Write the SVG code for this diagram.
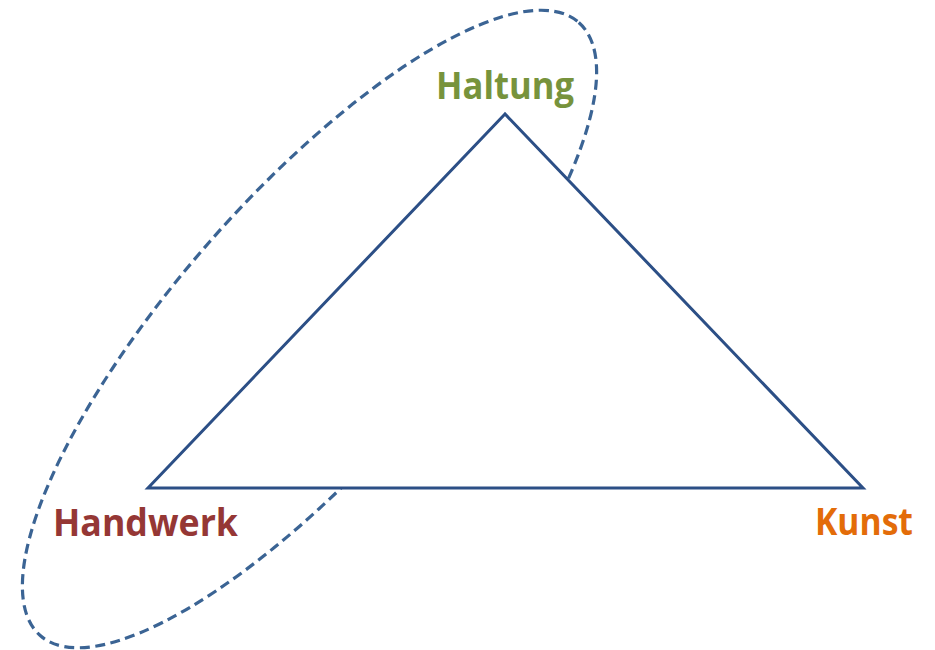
<svg xmlns="http://www.w3.org/2000/svg" width="935" height="650" viewBox="0 0 935 650">
<style>
.lbl{font-family:"Open Sans","Liberation Sans",sans-serif;font-weight:bold;font-size:37px}
</style>
<rect width="935" height="650" fill="#ffffff"/>
<g id="ellipse">
<ellipse cx="309.5" cy="329" rx="408" ry="132.6" transform="rotate(-48.7 309.5 329)" fill="none" stroke="#3B6494" stroke-width="3.2" stroke-dasharray="10 5.5"/>
</g>
<g id="connectors">
<polygon points="505,114 148,488 863,488" fill="#ffffff" stroke="#2C4F86" stroke-width="3" stroke-linejoin="miter"/>
</g>
<g id="haltung"><text class="lbl" x="436" y="99" fill="#77933C" textLength="138" lengthAdjust="spacingAndGlyphs">Haltung</text></g>
<g id="handwerk"><text class="lbl" x="53" y="536" fill="#953735" textLength="185" lengthAdjust="spacingAndGlyphs">Handwerk</text></g>
<g id="kunst"><text class="lbl" x="815" y="535" fill="#E36C09" textLength="98" lengthAdjust="spacingAndGlyphs">Kunst</text></g>
</svg>
